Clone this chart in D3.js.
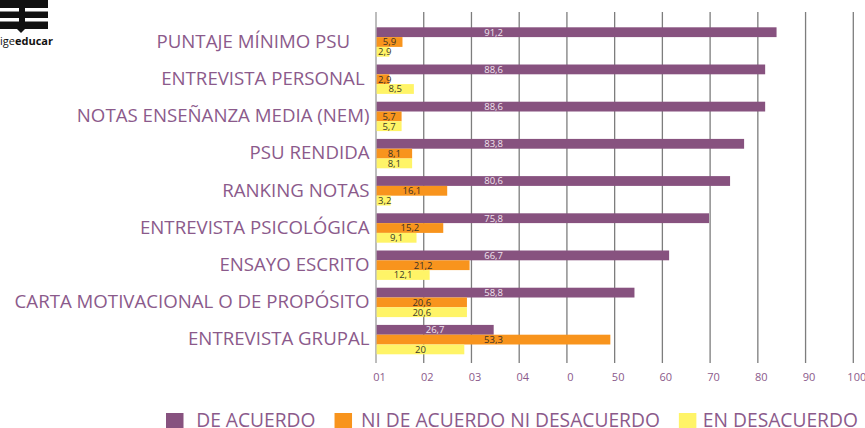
<!DOCTYPE html>
<html>
<head>
<meta charset="utf-8">
<script src="https://cdn.jsdelivr.net/npm/d3@7"></script>
<style>
  html, body { margin: 0; padding: 0; background: #fff; }
  svg { display: block; }
  text { white-space: pre; }
</style>
</head>
<body>
<svg id="chart" width="865" height="428"></svg>
<script>
// ---- data ----
const categories = [
  "PUNTAJE MÍNIMO PSU\u00a0\u00a0\u00a0\u00a0",
  "ENTREVISTA PERSONAL\u00a0",
  "NOTAS ENSEÑANZA MEDIA (NEM)",
  "PSU RENDIDA",
  "RANKING NOTAS",
  "ENTREVISTA PSICOLÓGICA",
  "ENSAYO ESCRITO",
  "CARTA MOTIVACIONAL O DE PROPÓSITO",
  "ENTREVISTA GRUPAL"
];
const deAcuerdo    = [91.2, 88.6, 88.6, 83.8, 80.6, 75.8, 66.7, 58.8, 26.7];
const niDeAcuerdo  = [5.9, 2.9, 5.7, 8.1, 16.1, 15.2, 21.2, 20.6, 53.3];
const enDesacuerdo = [2.9, 8.5, 5.7, 8.1, 3.2, 9.1, 12.1, 20.6, 20];
const seriesNames  = ["DE ACUERDO", "NI DE ACUERDO NI DESACUERDO", "EN DESACUERDO"];
const tickLabels   = ["01", "02", "03", "04", "0", "50", "60", "70", "80", "90", "100"];

// ---- styles ----
const colors = ["#87527f", "#f8941d", "#fff467"];
const labelColors = ["#f1e4ee", "#3a3128", "#3a3a2a"];
const textPurple = "#8b5a8b";
const fontFam = "'Open Sans', 'DejaVu Sans', sans-serif";

const svg = d3.select("#chart");

const seriesValues = [deAcuerdo, niDeAcuerdo, enDesacuerdo];
const rows = categories.map((c, i) => ({
  cat: c,
  vals: seriesNames.map((s, k) => ({ series: s, k, v: seriesValues[k][i] }))
}));

// scales
const x = d3.scaleLinear().domain([0, 108.7]).range([376.6, 853.3]);
const grid = d3.scaleLinear().domain([0, tickLabels.length - 1]).range([376, 853.3]);
const y = d3.scaleBand().domain(categories).range([23.4, 358.2]).paddingInner(0.21).paddingOuter(0.105);
const ySub = d3.scaleBand().domain(seriesNames).range([0, y.bandwidth()]);
const color = d3.scaleOrdinal().domain(seriesNames).range(colors);

// gridlines
svg.append("g").selectAll("line").data(tickLabels).join("line")
  .attr("x1", (d, i) => grid(i)).attr("x2", (d, i) => grid(i))
  .attr("y1", 12).attr("y2", 363)
  .attr("stroke", (d, i) => i === 0 ? "#9a9a9a" : "#7d7d7d")
  .attr("stroke-width", 1.3);

// tick labels
svg.append("g").selectAll("text").data(tickLabels).join("text")
  .attr("x", (d, i) => grid(i) + 3.5).attr("y", 381)
  .attr("text-anchor", "middle")
  .attr("font-family", fontFam).attr("font-size", 11)
  .attr("fill", textPurple)
  .text(d => d);

// bars
const rowG = svg.append("g").selectAll("g").data(rows).join("g")
  .attr("transform", d => `translate(0,${y(d.cat)})`);

rowG.selectAll("rect").data(d => d.vals).join("rect")
  .attr("x", x(0))
  .attr("y", d => ySub(d.series))
  .attr("width", d => x(d.v) - x(0))
  .attr("height", ySub.bandwidth())
  .attr("fill", d => color(d.series));

// value labels
const fmt = v => String(v).replace(".", ",");
rowG.selectAll("text.val").data(d => d.vals).join("text")
  .attr("class", "val")
  .attr("font-family", fontFam).attr("font-size", 9.5)
  .attr("fill", d => labelColors[d.k])
  .attr("text-anchor", "middle")
  .attr("y", d => ySub(d.series) + ySub.bandwidth() / 2 + 3.4)
  .text(d => fmt(d.v))
  .each(function(d) {
    const w = this.getComputedTextLength();
    const center = (x(0) + x(d.v)) / 2;
    const cx = Math.max(x(0) + 1.5 + w / 2, Math.min(center, x(0) + 117));
    d3.select(this).attr("x", cx);
  });

// category labels
const catText = svg.append("g").selectAll("text").data(categories).join("text")
  .attr("x", 369.5)
  .attr("y", d => y(d) + y.bandwidth() / 2 + 5.8)
  .attr("text-anchor", "end")
  .attr("font-family", fontFam)
  .attr("font-size", 18)
  .attr("fill", textPurple)
  .text(d => d);
// fit the longest label to the reference width
const longest = catText.filter((d, i) => i === 7).node().getComputedTextLength();
const catSize = 18 * 355 / longest;
catText.attr("font-size", catSize);

// legend
const legend = svg.append("g");
const probe = legend.append("text").attr("font-family", fontFam).attr("font-size", 18).text(seriesNames[1]);
const legSize = 18 * 299 / probe.node().getComputedTextLength();
probe.remove();
const gapAfterSquare = [12.7, 9, 6.5];
let lx = 166;
seriesNames.forEach((s, k) => {
  legend.append("rect").attr("x", lx).attr("y", 413).attr("width", 17.5).attr("height", 17.5)
    .attr("fill", colors[k]);
  const tx = lx + 17.5 + gapAfterSquare[k];
  const t = legend.append("text").attr("x", tx).attr("y", 427)
    .attr("font-family", fontFam).attr("font-size", legSize)
    .attr("fill", textPurple).text(s);
  const w = t.node().getComputedTextLength();
  lx = tx + w + 19;
});

// logo (top-left)
const logo = svg.append("g");
logo.append("rect").attr("x", 0).attr("y", 0).attr("width", 48).attr("height", 29).attr("fill", "#111");
logo.append("rect").attr("x", 0).attr("y", 8).attr("width", 19).attr("height", 3.5).attr("fill", "#fff");
logo.append("rect").attr("x", 25).attr("y", 8).attr("width", 23).attr("height", 3.5).attr("fill", "#fff");
logo.append("rect").attr("x", 0).attr("y", 18).attr("width", 19).attr("height", 3.5).attr("fill", "#fff");
logo.append("rect").attr("x", 25).attr("y", 18).attr("width", 23).attr("height", 3.5).attr("fill", "#fff");
logo.append("path").attr("d", "M17,29 L25,29 L21,33 Z").attr("fill", "#111");
const lt = logo.append("text").attr("x", 0).attr("y", 45)
  .attr("font-family", "'Open Sans', sans-serif").attr("font-size", 11).attr("fill", "#111");
lt.append("tspan").text("ige");
lt.append("tspan").attr("font-weight", "bold").text("educar");
</script>
</body>
</html>
